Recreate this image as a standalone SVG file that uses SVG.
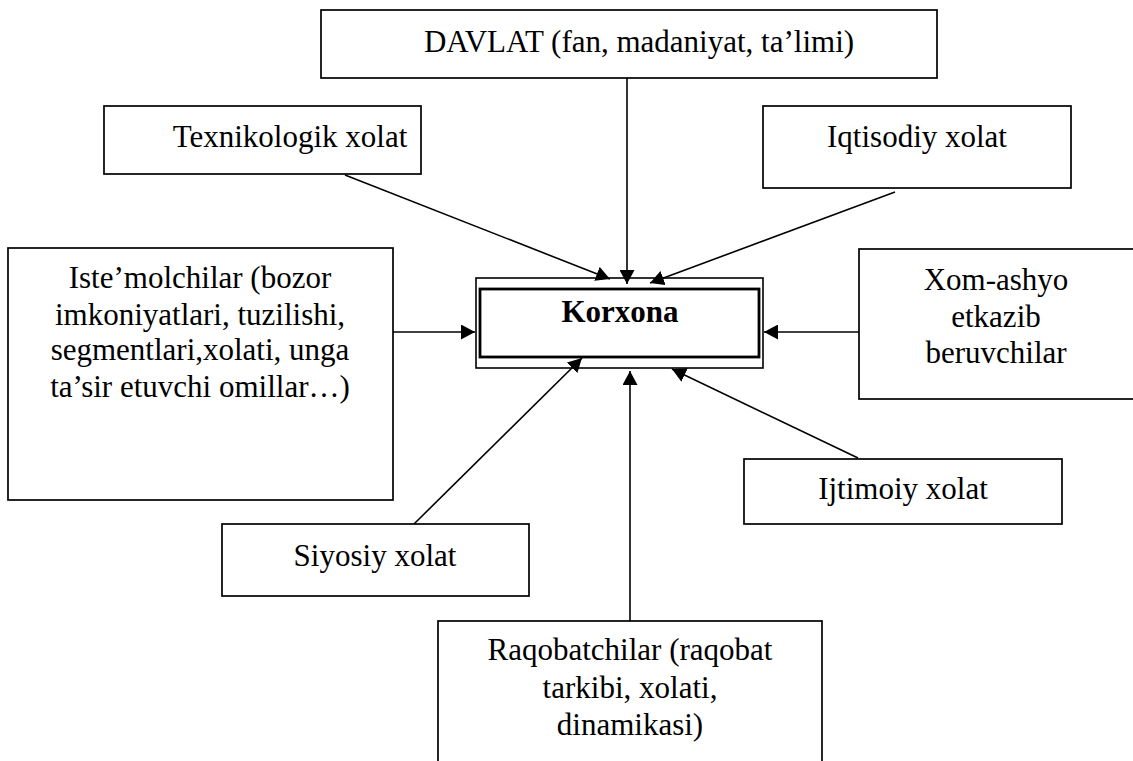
<svg xmlns="http://www.w3.org/2000/svg" width="1133" height="761" viewBox="0 0 1133 761">
<defs>
<marker id="ah" markerUnits="userSpaceOnUse" markerWidth="15" markerHeight="15" refX="14" refY="7.5" orient="auto">
<path d="M0,0 L14,7.5 L0,15 Z" fill="#000"/>
</marker>
<style>
.box{fill:#fff;stroke:#000;stroke-width:1.7}
.t{font-family:"Liberation Serif","Times New Roman",serif;font-size:31px;fill:#000;text-anchor:middle}
.c{stroke:#000;stroke-width:1.6;fill:none;marker-end:url(#ah)}
</style>
</defs>
<rect width="1133" height="761" fill="#fff"/>
<g id="davlat">
<rect class="box" x="321" y="10" width="616" height="68"/>
<text class="t" x="639" y="52">DAVLAT (fan, madaniyat, ta’limi)</text>
</g>
<g id="texnikologik">
<rect class="box" x="104" y="106" width="317" height="68"/>
<text class="t" x="290" y="147">Texnikologik xolat</text>
</g>
<g id="iqtisodiy">
<rect class="box" x="763" y="106" width="308" height="82"/>
<text class="t" x="917" y="147">Iqtisodiy xolat</text>
</g>
<g id="istemolchilar">
<rect class="box" x="8" y="248" width="385" height="252"/>
<text class="t" x="200" y="288">Iste’molchilar (bozor</text>
<text class="t" x="200" y="325">imkoniyatlari, tuzilishi,</text>
<text class="t" x="200" y="360">segmentlari,xolati, unga</text>
<text class="t" x="200" y="397">ta’sir etuvchi omillar…)</text>
</g>
<g id="korxona">
<rect x="476" y="278" width="287" height="90" fill="#fff" stroke="#000" stroke-width="1.6"/>
<rect x="480" y="289" width="279" height="68" fill="none" stroke="#000" stroke-width="2.8"/>
<text class="t" x="620" y="322" font-weight="bold">Korxona</text>
</g>
<g id="xomashyo">
<rect class="box" x="859" y="249" width="280" height="150"/>
<text class="t" x="996" y="290">Xom-ashyo</text>
<text class="t" x="996" y="327">etkazib</text>
<text class="t" x="996" y="363">beruvchilar</text>
</g>
<g id="ijtimoiy">
<rect class="box" x="744" y="459" width="318" height="65"/>
<text class="t" x="903" y="499">Ijtimoiy xolat</text>
</g>
<g id="siyosiy">
<rect class="box" x="222" y="524" width="307" height="72"/>
<text class="t" x="375" y="566">Siyosiy xolat</text>
</g>
<g id="raqobatchilar">
<rect class="box" x="438" y="621" width="384" height="150"/>
<text class="t" x="630" y="660">Raqobatchilar (raqobat</text>
<text class="t" x="630" y="698">tarkibi, xolati,</text>
<text class="t" x="630" y="735">dinamikasi)</text>
</g>
<g id="connectors">
<line class="c" x1="627" y1="78" x2="627" y2="284"/>
<line class="c" x1="345" y1="175" x2="610" y2="279"/>
<line class="c" x1="895" y1="192" x2="650" y2="283"/>
<line class="c" x1="393" y1="332" x2="475" y2="332"/>
<line class="c" x1="859" y1="332" x2="764" y2="332"/>
<line class="c" x1="414" y1="524" x2="582" y2="358"/>
<line class="c" x1="630" y1="621" x2="630" y2="371"/>
<line class="c" x1="858" y1="458" x2="672" y2="369"/>
</g>
</svg>
